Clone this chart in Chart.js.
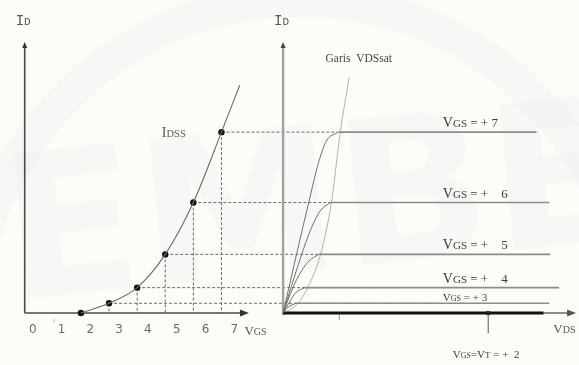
<!DOCTYPE html>
<html>
<head>
<meta charset="utf-8">
<script src="https://cdn.jsdelivr.net/npm/chart.js@4/dist/chart.umd.min.js"></script>
<style>
html,body{margin:0;padding:0;background:#fdfdf7;}
#wrap{width:579px;height:365px;position:relative;}
</style>
</head>
<body>
<div id="wrap"><canvas id="c" width="579" height="365"></canvas></div>
<script>
// Transfer characteristic: drain current I_D versus gate-source voltage V_GS
const vgsTicks = [0, 1, 2, 3, 4, 5, 6, 7];
const vgsPoints = [2, 3, 4, 5, 6, 7];
const idPoints = [0, 1.0, 2.6, 6.0, 11.3, 18.5];
const vgsCurve = [2, 3, 4, 5, 6, 7, 7.65];
const idCurve = [0, 1.0, 2.6, 6.0, 11.3, 18.5, 23.3];

// Output characteristic: one curve per gate voltage (V_GS = 3 ... 7)
const vgsLevels = [3, 4, 5, 6, 7];
const idLevels = [1.0, 2.6, 6.0, 11.3, 18.5];
const kneeVds = [1.3, 2.2, 3.6, 4.8, 5.6];
const lineEndVds = [27.0, 28.0, 27.1, 27.0, 25.7];
const guideEndVds = [15.7, 11.7, 8.7, 4.8, 5.5];
const riseVds = [[0, 0.5], [0, 0.7, 1.3], [0, 1.0, 1.8, 2.6], [0, 1.3, 2.3, 3.0, 3.8], [0, 1.5, 2.6, 3.6, 4.4]];
const riseId = [[0, 0.6], [0, 1.2, 2.1], [0, 2.6, 4.2, 5.3], [0, 4.2, 7.2, 9.0, 10.5], [0, 6.6, 11.3, 15.4, 17.6]];

// V_GS = V_T : no drain current
const vtVds = [0, 26.4];
const vtId = [0, 0];

// Saturation boundary ("Garis VDSsat")
const satVds = [0.2, 1.5, 2.5, 3.8, 4.9, 5.8, 6.7];
const satId = [0, 1.0, 2.6, 6.0, 11.3, 18.5, 24.1];

const pts = (xs, ys) => xs.map((x, i) => ({x: x, y: ys[i]}));

const datasets = [];
// transfer curve
datasets.push({data: pts(vgsCurve, idCurve), xAxisID: 'x', borderColor: '#6a6a6a', borderWidth: 1.1,
  pointRadius: 0, cubicInterpolationMode: 'monotone', fill: false});
// transfer points
datasets.push({data: pts(vgsPoints, idPoints), xAxisID: 'x', showLine: false, pointRadius: 3.2,
  pointBackgroundColor: '#111', pointBorderColor: '#111', pointBorderWidth: 0});
// output curves: rising part up to the knee, then flat saturation line
vgsLevels.forEach((v, i) => {
  const xs = riseVds[i].concat([kneeVds[i]]);
  const ys = riseId[i].concat([idLevels[i]]);
  datasets.push({data: pts(xs, ys), xAxisID: 'x2', borderColor: '#6e6e6e', borderWidth: 1,
    pointRadius: 0, cubicInterpolationMode: 'monotone', fill: false});
  datasets.push({data: pts([kneeVds[i], lineEndVds[i]], [idLevels[i], idLevels[i]]), xAxisID: 'x2',
    borderColor: '#8c8c8c', borderWidth: 1.6, pointRadius: 0, fill: false});
});
// V_GS = V_T line
datasets.push({data: pts(vtVds, vtId), xAxisID: 'x2', borderColor: '#111', borderWidth: 3, pointRadius: 0});
// saturation boundary
datasets.push({data: pts(satVds, satId), xAxisID: 'x2', borderColor: '#a8a8a8', borderWidth: 0.9,
  pointRadius: 0, cubicInterpolationMode: 'monotone'});

// draws one run of text made of pieces with their own fonts (for subscripts)
function drawRuns(ctx, runs, x, y) {
  ctx.textBaseline = 'alphabetic';
  ctx.textAlign = 'left';
  let cx = x;
  runs.forEach(r => {
    ctx.font = r[1];
    ctx.fillStyle = r[3] || '#3a3a3a';
    ctx.fillText(r[0], cx, y + (r[2] || 0));
    cx += ctx.measureText(r[0]).width;
  });
}

function arrowRight(ctx, x, y, c) {
  ctx.fillStyle = c;
  ctx.beginPath(); ctx.moveTo(x + 5, y); ctx.lineTo(x - 4, y - 3.5); ctx.lineTo(x - 4, y + 3.5); ctx.closePath(); ctx.fill();
}
function arrowUp(ctx, x, y, c) {
  ctx.fillStyle = c;
  ctx.beginPath(); ctx.moveTo(x, y - 3); ctx.lineTo(x - 2.5, y + 3); ctx.lineTo(x + 2.5, y + 3); ctx.closePath(); ctx.fill();
}

const diagram = {
  id: 'diagram',
  beforeDatasetsDraw(chart) {
    const ctx = chart.ctx;
    const sx = chart.scales.x, sd = chart.scales.x2, sy = chart.scales.y;
    const y0 = sy.getPixelForValue(0);
    const top = sy.getPixelForValue(27.4);
    ctx.save();
    // faint background emblem
    ctx.save();
    ctx.fillStyle = 'rgba(214,222,234,0.15)';
    ctx.strokeStyle = 'rgba(214,222,234,0.15)';
    ctx.lineWidth = 34;
    ctx.beginPath(); ctx.arc(300, 330, 330, Math.PI * 1.08, Math.PI * 1.92); ctx.stroke();
    ctx.translate(10, 300);
    ctx.rotate(-0.1);
    ctx.font = 'bold 200px "DejaVu Sans"';
    ctx.fillText('EMBER', 0, 0);
    ctx.restore();
    // dashed guides from each transfer point
    ctx.strokeStyle = '#6a6a6a';
    ctx.lineWidth = 1;
    ctx.setLineDash([3, 2]);
    vgsLevels.forEach((v, i) => {
      const px = sx.getPixelForValue(v);
      const py = sy.getPixelForValue(idLevels[i]);
      ctx.beginPath(); ctx.moveTo(px, py); ctx.lineTo(px, y0); ctx.stroke();
      ctx.beginPath(); ctx.moveTo(px, py); ctx.lineTo(sd.getPixelForValue(guideEndVds[i]), py); ctx.stroke();
    });
    ctx.setLineDash([]);
    // left panel axes
    const lx0 = sx.getPixelForValue(0), lx1 = sx.getPixelForValue(7.8);
    ctx.strokeStyle = '#4a4a4a'; ctx.lineWidth = 1.6;
    ctx.beginPath(); ctx.moveTo(lx0, y0); ctx.lineTo(lx0, top); ctx.stroke();
    ctx.beginPath(); ctx.moveTo(lx0, y0); ctx.lineTo(lx1, y0); ctx.stroke();
    arrowUp(ctx, lx0, top, '#333');
    arrowRight(ctx, lx1, y0, '#333');
    ctx.strokeStyle = '#bbb'; ctx.lineWidth = 1;
    const t1 = sx.getPixelForValue(1.05);
    ctx.beginPath(); ctx.moveTo(t1, y0 + 6); ctx.lineTo(t1, y0 + 10); ctx.stroke();
    // right panel axes
    const rx0 = sd.getPixelForValue(0), rx1 = sd.getPixelForValue(29.2);
    ctx.strokeStyle = '#a2a2a2'; ctx.lineWidth = 2.4;
    ctx.beginPath(); ctx.moveTo(rx0, y0 + 2); ctx.lineTo(rx0, top); ctx.stroke();
    arrowUp(ctx, rx0, top, '#444');
    ctx.strokeStyle = '#6a6a6a'; ctx.lineWidth = 1.4;
    ctx.beginPath(); ctx.moveTo(rx0, y0); ctx.lineTo(rx1, y0); ctx.stroke();
    arrowRight(ctx, rx1, y0, '#555');
    const tk = sd.getPixelForValue(5.7);
    ctx.strokeStyle = '#999'; ctx.lineWidth = 1;
    ctx.beginPath(); ctx.moveTo(tk, y0); ctx.lineTo(tk, y0 + 7); ctx.stroke();
    ctx.restore();
  },
  afterDatasetsDraw(chart) {
    const ctx = chart.ctx;
    const sx = chart.scales.x, sd = chart.scales.x2, sy = chart.scales.y;
    const y0 = sy.getPixelForValue(0);
    ctx.save();
    // axis titles
    const mono = n => n + 'px "Liberation Mono"';
    const serif = n => n + 'px "Liberation Serif"';
    drawRuns(ctx, [['I', mono(14), 0, '#555'], ['D', mono(11), 0, '#555']], sx.getPixelForValue(0) - 9, 25);
    drawRuns(ctx, [['I', mono(14), 0, '#555'], ['D', mono(11), 0, '#555']], sd.getPixelForValue(0) - 9, 25);
    // V_GS tick labels
    ctx.font = '12px "DejaVu Sans"';
    ctx.fillStyle = '#6a6a6a';
    ctx.textAlign = 'center';
    ctx.textBaseline = 'middle';
    vgsTicks.forEach(t => ctx.fillText(String(t), sx.getPixelForValue(t) + 8 + t * 0.7, y0 + 17));
    drawRuns(ctx, [['V', serif(13), 0, '#555'], ['GS', serif(10), 0, '#555']], sx.getPixelForValue(7) + 23, y0 + 22);
    drawRuns(ctx, [['V', serif(13), 0, '#555'], ['DS', serif(10), 0, '#555']], sd.getPixelForValue(27.4), y0 + 20);
    // I_DSS label
    drawRuns(ctx, [['I', serif(14), 0, '#555'], ['DSS', serif(10.5), 0, '#555']], sx.getPixelForValue(4.88), sy.getPixelForValue(18.0));
    // saturation boundary label
    drawRuns(ctx, [['Garis  VDSsat', serif(11.5), 0, '#444']], sd.getPixelForValue(4.3), 62);
    // gate-voltage labels
    const lx = sd.getPixelForValue(16.2);
    const spaces = ['', '   ', '   ', '   ', ''];
    vgsLevels.forEach((v, i) => {
      const py = sy.getPixelForValue(idLevels[i]);
      if (v === 3) {
        drawRuns(ctx, [['V', serif(11)], ['GS', serif(8)], [' = + ' + v, serif(11)]], lx, py - 2);
      } else {
        drawRuns(ctx, [['V', serif(14)], ['GS', serif(11)], [' = + ' + spaces[i] + v, serif(13)]], lx, py - 5);
      }
    });
    // V_GS = V_T marker
    const mx = sd.getPixelForValue(20.8);
    ctx.fillStyle = '#222';
    ctx.fillRect(mx - 2, y0 - 2, 4, 4);
    ctx.strokeStyle = '#555'; ctx.lineWidth = 1;
    ctx.beginPath(); ctx.moveTo(mx, y0 + 2); ctx.lineTo(mx, y0 + 20); ctx.stroke();
    drawRuns(ctx, [['V', serif(11)], ['GS', serif(8)], ['=V', serif(11)], ['T', serif(9)], [' = +  2', serif(11)]],
      sd.getPixelForValue(17.2), y0 + 45);
    ctx.restore();
  }
};

new Chart(document.getElementById('c'), {
  type: 'line',
  data: {datasets: datasets},
  options: {
    responsive: false,
    devicePixelRatio: 1,
    animation: false,
    events: [],
    layout: {padding: 0},
    plugins: {legend: {display: false}, tooltip: {enabled: false}},
    elements: {line: {tension: 0}},
    scales: {
      x: {type: 'linear', display: false, min: -0.7368, max: 19.579},
      x2: {type: 'linear', display: false, min: -28.3, max: 29.6},
      y: {type: 'linear', display: false, min: -4.9, max: 31.6}
    }
  },
  plugins: [diagram]
});
</script>
</body>
</html>
